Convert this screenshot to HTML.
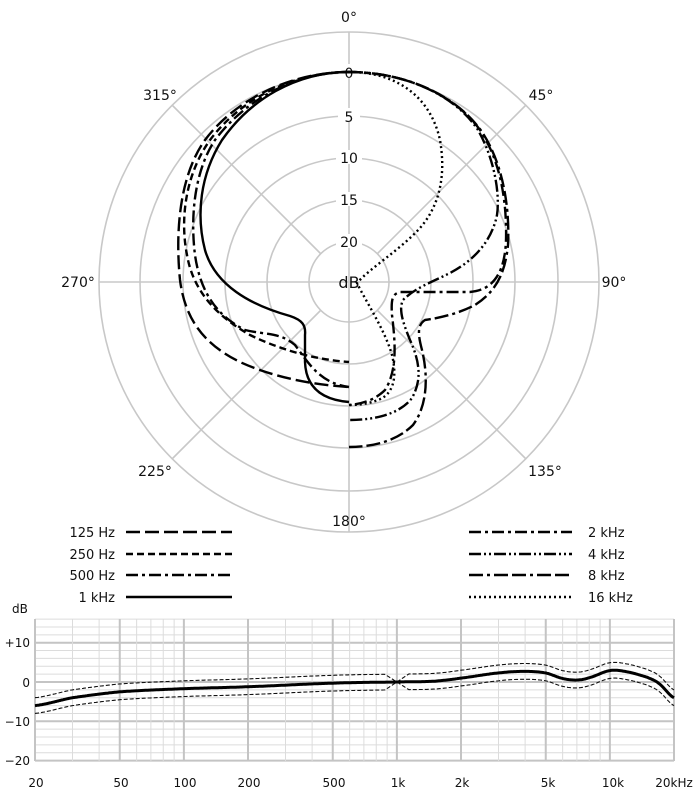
<!DOCTYPE html>
<html><head><meta charset="utf-8"><style>
html,body{margin:0;padding:0;background:#fff;}
svg{display:block;font-family:"DejaVu Sans","Liberation Sans",sans-serif;}
</style></head><body>
<svg id="s" width="696" height="796" viewBox="0 0 696 796" xmlns="http://www.w3.org/2000/svg">
<g fill="none" stroke="#c8c8c8" stroke-width="1.6">
<circle cx="349" cy="282" r="40"/><circle cx="349" cy="282" r="82"/><circle cx="349" cy="282" r="124"/>
<circle cx="349" cy="282" r="166"/><circle cx="349" cy="282" r="209"/><circle cx="349" cy="282" r="250"/>
<line x1="349" y1="32" x2="349" y2="532"/><line x1="99" y1="282" x2="599" y2="282"/>
<line x1="172" y1="105" x2="321" y2="254"/><line x1="526" y1="105" x2="377" y2="254"/>
<line x1="172" y1="459" x2="321" y2="310"/><line x1="526" y1="459" x2="377" y2="310"/>
</g>
<g font-size="14" fill="#111" text-anchor="middle">
<text x="349" y="22">0°</text><text x="541" y="100">45°</text><text x="614" y="287">90°</text>
<text x="545" y="476">135°</text><text x="349" y="526">180°</text><text x="155" y="476">225°</text>
<text x="78" y="287">270°</text><text x="160" y="100">315°</text>
</g>
<g font-size="14" fill="#111" text-anchor="middle">
<rect x="338" y="64" width="22" height="14" fill="#fff"/><text x="349" y="78">0</text>
<rect x="338" y="108" width="22" height="14" fill="#fff"/><text x="349" y="122">5</text>
<rect x="336" y="150" width="26" height="14" fill="#fff"/><text x="349" y="163">10</text>
<rect x="336" y="192" width="26" height="14" fill="#fff"/><text x="349" y="205">15</text>
<rect x="336" y="234" width="26" height="14" fill="#fff"/><text x="349" y="247">20</text>
<text x="349" y="288" font-size="16">dB</text>
</g>
<g fill="none" stroke="#000" stroke-width="2.4">
<!-- 125 Hz -->
<path stroke-dasharray="14,5" d="M349,72 C290,72 235,100 205,140 C180,175 175,230 180,280 C185,320 205,345 240,362 C275,378 315,385 349,387"/>
<!-- 250 Hz -->
<path stroke-dasharray="7,4" d="M349,72 C292,72 240,100 210,140 C185,175 180,220 187,255 C193,290 215,315 250,335 C285,352 320,360 349,362"/>
<!-- 500 Hz -->
<path stroke-dasharray="12,4,3,4" d="M349,72 C295,72 245,100 215,140 C195,170 190,215 195,255 C200,290 215,315 245,330 C265,335 280,332 295,345 C310,365 320,383 349,387"/>
<!-- 1 kHz -->
<path d="M349,72 C295,72 250,100 222,140 C200,175 196,215 205,250 C215,285 250,305 290,316 C302,320 306,325 305,335 L305,362 C306,390 325,400 349,402"/>
<!-- 2 kHz -->
<path stroke-dasharray="12,4,3,4" d="M349,72 C405,72 455,95 480,130 C500,160 507,200 506,240 C505,270 495,290 470,292 L400,292 C392,294 391,300 392,315 C395,340 398,370 385,390 C375,400 362,404 349,405"/>
<!-- 4 kHz -->
<path stroke-dasharray="12,3,2,3,2,3" d="M349,72 C405,72 455,95 478,130 C495,160 500,195 497,215 C492,240 475,260 450,273 C430,283 415,288 403,300 C398,310 404,325 410,340 C420,362 422,380 412,398 C400,414 375,420 349,420"/>
<!-- 8 kHz -->
<path stroke-dasharray="14,4,3,4,14,4" d="M349,72 C408,72 458,97 482,132 C502,162 510,205 508,245 C505,275 495,292 475,305 C460,313 440,318 425,320 C417,325 418,335 422,350 C428,375 428,405 413,425 C398,440 375,447 349,447"/>
<!-- 16 kHz -->
<path stroke-dasharray="2,3" d="M349,72 C395,72 430,95 440,140 C446,175 440,205 420,228 C400,250 370,268 357,283 C365,300 385,330 392,355 C398,380 392,395 378,400 C368,404 358,405 349,405"/>
</g>
<!-- legend -->
<g font-size="13" fill="#111">
<text x="115" y="537" text-anchor="end">125 Hz</text>
<text x="115" y="559" text-anchor="end">250 Hz</text>
<text x="115" y="580" text-anchor="end">500 Hz</text>
<text x="115" y="602" text-anchor="end">1 kHz</text>
<text x="588" y="537">2 kHz</text>
<text x="588" y="559">4 kHz</text>
<text x="588" y="580">8 kHz</text>
<text x="588" y="602">16 kHz</text>
</g>
<g stroke="#000" stroke-width="2.4">
<line x1="126" y1="532" x2="232" y2="532" stroke-dasharray="14,5"/>
<line x1="126" y1="554" x2="232" y2="554" stroke-dasharray="7,4"/>
<line x1="126" y1="575" x2="232" y2="575" stroke-dasharray="12,4,3,4"/>
<line x1="126" y1="597" x2="232" y2="597"/>
<line x1="469" y1="532" x2="572" y2="532" stroke-dasharray="12,4,3,4"/>
<line x1="469" y1="554" x2="572" y2="554" stroke-dasharray="12,3,2,3,2,3"/>
<line x1="469" y1="575" x2="572" y2="575" stroke-dasharray="14,4,3,4,14,4"/>
<line x1="469" y1="597" x2="572" y2="597" stroke-dasharray="2,3"/>
</g>
<g id="fr"></g>
<g font-size="12" fill="#111">
<text x="12" y="613">dB</text>
<text x="30" y="647" text-anchor="end">+10</text>
<text x="30" y="687" text-anchor="end">0</text>
<text x="30" y="726" text-anchor="end">−10</text>
<text x="30" y="765" text-anchor="end">−20</text>
<g text-anchor="middle">
<text x="36" y="787">20</text><text x="121" y="787">50</text><text x="185" y="787">100</text>
<text x="249" y="787">200</text><text x="334" y="787">500</text><text x="398" y="787">1k</text>
<text x="462" y="787">2k</text><text x="548" y="787">5k</text><text x="613" y="787">10k</text>
<text x="674" y="787">20kHz</text></g>
</g>
</svg>
<script>
(function(){
var NS="http://www.w3.org/2000/svg",g=document.getElementById("fr");
function X(f){return 35+Math.log10(f/20)*213;}
function Y(d){return 682-d*3.93;}
function el(t,a){var e=document.createElementNS(NS,t);for(var k in a)e.setAttribute(k,a[k]);g.appendChild(e);return e;}
var L=35,R=674,T=619,B=761;
for(var d=-20;d<=16;d+=2){var maj=(d%10==0);el("line",{x1:L,x2:R,y1:Y(d),y2:Y(d),stroke:maj?"#c4c4c4":"#dcdcdc","stroke-width":maj?2:1});}
var fs=[];[10,100,1000,10000].forEach(function(b){for(var i=1;i<10;i++)fs.push(b*i);});fs.push(20000);
fs.forEach(function(f){if(f<20||f>20000)return;var maj=[20,50,100,200,500,1000,2000,5000,10000,20000].indexOf(f)>=0;
el("line",{x1:X(f),x2:X(f),y1:T,y2:B,stroke:maj?"#c4c4c4":"#dcdcdc","stroke-width":maj?2:1});});
var pts=[[20,-6],[30,-4],[50,-2.5],[100,-1.7],[200,-1.2],[500,-0.3],[1000,0],[1500,0.2],[2000,1],[3000,2.3],[4000,2.7],[5000,2.3],[6000,0.9],[7000,0.5],[8000,1.1],[10000,2.9],[12000,2.6],[15000,1.2],[17000,-0.4],[20000,-4]];
function interp(lf){for(var i=0;i<pts.length-1;i++){var a=Math.log10(pts[i][0]),b=Math.log10(pts[i+1][0]);if(lf<=b){
var p0=pts[Math.max(i-1,0)][1],p1=pts[i][1],p2=pts[i+1][1],p3=pts[Math.min(i+2,pts.length-1)][1],t=(lf-a)/(b-a);
return 0.5*((2*p1)+(-p0+p2)*t+(2*p0-5*p1+4*p2-p3)*t*t+(-p0+3*p1-3*p2+p3)*t*t*t);}}return pts[pts.length-1][1];}
var m="",u1="",l1="",u2="",l2="";
for(var x=L;x<=R;x+=1){var lf=Math.log10(20)+(x-35)/213,f=Math.pow(10,lf),v=interp(lf);
m+=(x==L?"M":"L")+x+","+Y(v).toFixed(1);
var w=2;if(f<1000){var dx=X(1000)-x;w=dx<12?2*dx/12:2;if(f<=900||true){u1+=(u1?"L":"M")+x+","+Y(v+w).toFixed(1);l1+=(l1?"L":"M")+x+","+Y(v-w).toFixed(1);}}
else{var dx2=x-X(1000);w=dx2<12?2*dx2/12:2;u2+=(u2?"L":"M")+x+","+Y(v+w).toFixed(1);l2+=(l2?"L":"M")+x+","+Y(v-w).toFixed(1);}}
[u1,l1,u2,l2].forEach(function(p){el("path",{d:p,fill:"none",stroke:"#111","stroke-width":1.1,"stroke-dasharray":"4,2"});});
el("path",{d:m,fill:"none",stroke:"#000","stroke-width":3});
})();
</script>
</body></html>
